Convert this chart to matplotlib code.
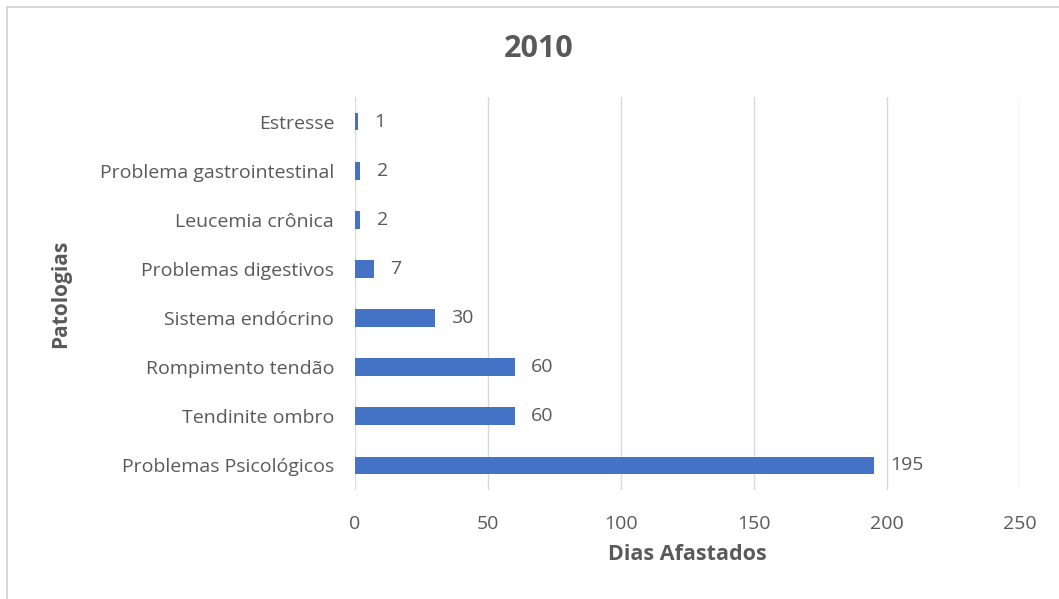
import matplotlib.pyplot as plt
from matplotlib.patches import Rectangle

# dados
patologias = ['Estresse', 'Problema gastrointestinal', 'Leucemia crônica',
              'Problemas digestivos', 'Sistema endócrino', 'Rompimento tendão',
              'Tendinite ombro', 'Problemas Psicológicos']
dias = [1, 2, 2, 7, 30, 60, 60, 195]
xticks = [0, 50, 100, 150, 200, 250]

plt.rcParams['font.family'] = ['Open Sans', 'DejaVu Sans']
cinza = '#595959'

fig = plt.figure(figsize=(10.59, 5.99), dpi=100)
fig.patches.append(Rectangle((0.007, -0.01), 1.0, 1.0 - 0.002, transform=fig.transFigure,
                             fill=False, edgecolor='#d0d0d0', linewidth=1.2))
ax = fig.add_axes([0.3352, 0.182, 0.628, 0.656])

pos = list(range(len(patologias)))
ax.barh(pos, dias, height=0.36, color='#4472C4', zorder=3)
for p, d in zip(pos, dias):
    ax.annotate(str(d), (d, p), xytext=(12, 0), textcoords='offset points',
                va='center', ha='left', fontsize=14, color=cinza)

ax.set_ylim(len(patologias) - 0.5, -0.5)
ax.set_xlim(0, 250)
ax.set_xticks(xticks)
ax.set_yticks(pos)
ax.set_yticklabels(patologias)
ax.tick_params(axis='both', length=0, labelsize=14, labelcolor=cinza)
ax.tick_params(axis='y', pad=15)
ax.tick_params(axis='x', pad=18)
ax.grid(axis='x', color='#d9d9d9', linewidth=1, zorder=0)
for s in ax.spines.values():
    s.set_visible(False)

ax.set_xlabel('Dias Afastados', fontsize=15.5, fontweight='bold', color=cinza, labelpad=8)
ax.set_ylabel('Patologias', fontsize=15, fontweight='bold', color=cinza, labelpad=21)
fig.text(0.509, 0.918, '2010', ha='center', va='center', fontsize=22,
         fontweight='bold', color=cinza)

fig.savefig('out.png', dpi=100)
